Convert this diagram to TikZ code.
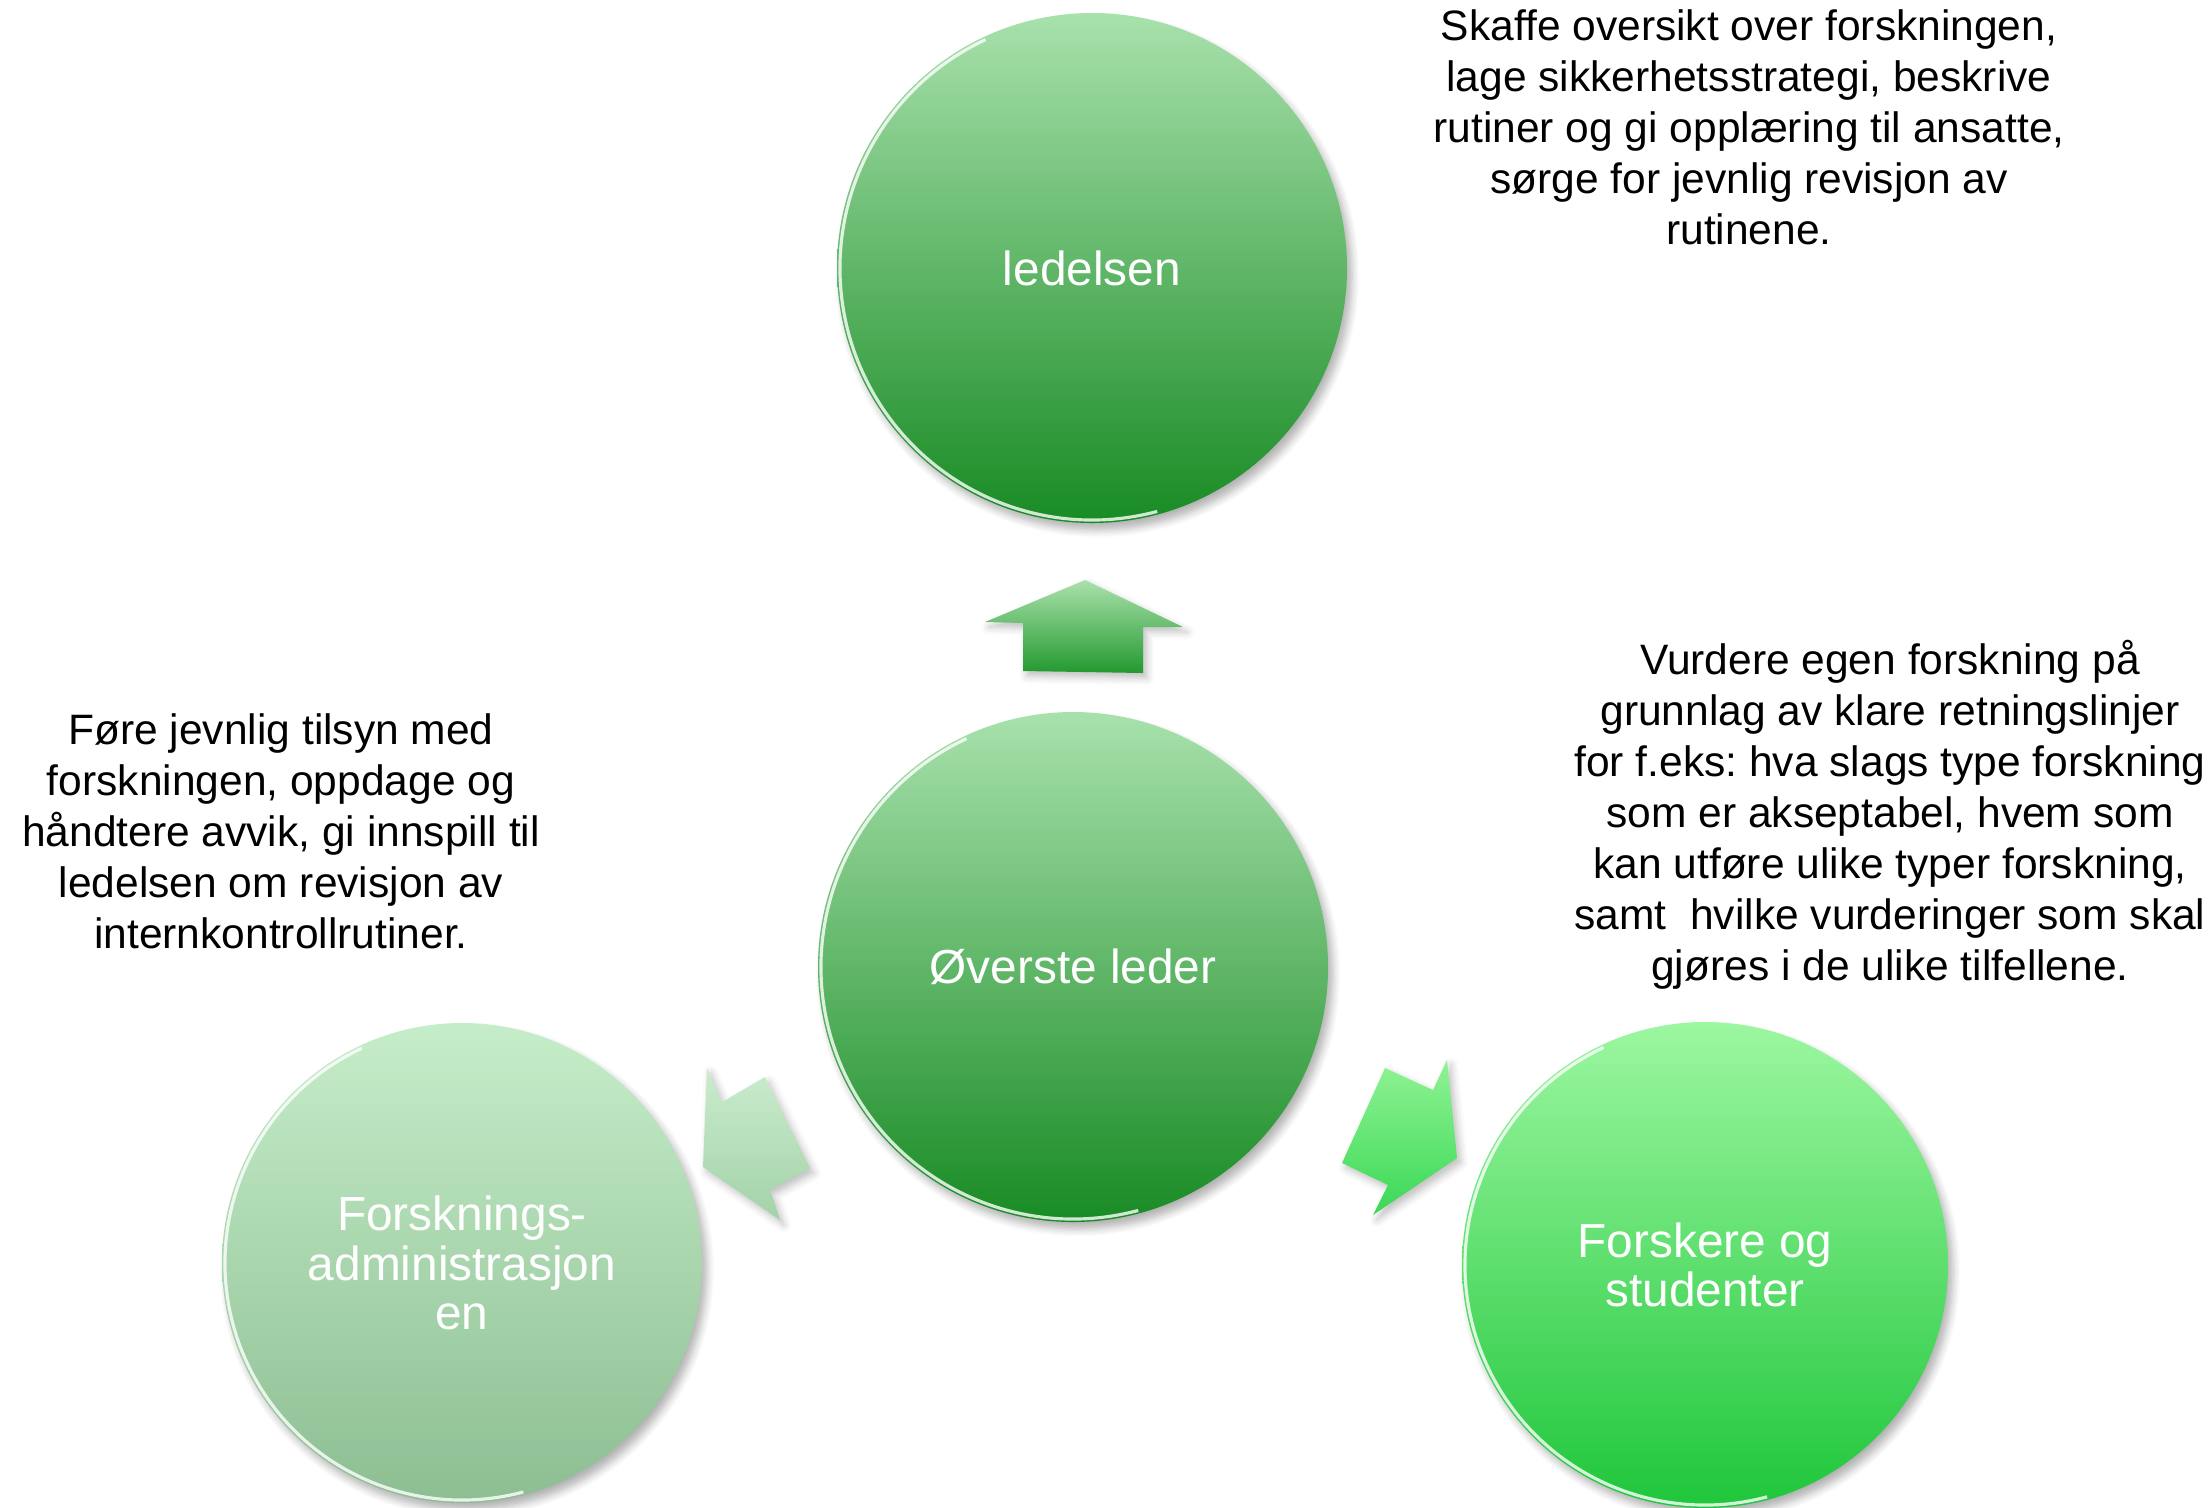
\documentclass[tikz,border=0pt]{standalone}
\usepackage{fontspec}
\setmainfont{Liberation Sans}
\usetikzlibrary{shadows.blur}
\definecolor{ledelseTopp}{RGB}{168, 225, 172}
\definecolor{ledelseBunn}{RGB}{24, 139, 36}
\definecolor{adminTopp}{RGB}{197, 237, 201}
\definecolor{adminBunn}{RGB}{141, 190, 146}
\definecolor{forskerTopp}{RGB}{156, 247, 160}
\definecolor{forskerBunn}{RGB}{31, 198, 59}
\definecolor{pilOppTopp}{RGB}{170, 225, 172}
\definecolor{pilOppBunn}{RGB}{35, 153, 47}
\definecolor{pilVTopp}{RGB}{202, 236, 205}
\definecolor{pilVBunn}{RGB}{163, 210, 168}
\definecolor{pilHTopp}{RGB}{144, 243, 148}
\definecolor{pilHBunn}{RGB}{58, 216, 86}
\tikzset{
  sirkel/.style = {circle, inner sep = 0pt, outer sep = 0pt, align = center, text = white,
    font = \fontsize{13.6}{14}\selectfont,
    blur shadow = {shadow xshift = 0.5mm, shadow yshift = -0.7mm, shadow blur steps = 6, shadow opacity = 30}},
  blokkpil/.style = {blur shadow = {shadow xshift = 0.4mm, shadow yshift = -0.5mm, shadow blur steps = 4, shadow opacity = 25}},
  rim/.style = {white, line width = 0.9pt, opacity = 0.8},
  tekst/.style = {align = center, font = \fontsize{12.1}{14.5}\selectfont}
}
\frenchspacing

\begin{document}
\begin{tikzpicture}[x = 0.1mm, y = -0.1mm]
\useasboundingbox (0,0) rectangle (2212,1507);
% sirkler
\node[sirkel, minimum size = 51mm, top color = ledelseTopp, bottom color = ledelseBunn] (ledelse) at (1092,268) {ledelsen};
\node[sirkel, minimum size = 51mm, top color = ledelseTopp, bottom color = ledelseBunn] (leder) at (1073,967) {Øverste leder};
\node[sirkel, minimum size = 48mm, top color = adminTopp, bottom color = adminBunn] (admin) at (462,1263) {Forsknings-\\administrasjon\\en};
\node[sirkel, minimum size = 48.6mm, top color = forskerTopp, bottom color = forskerBunn] (forskere) at (1705,1265) {Forskere og\\studenter};
\draw[rim] (ledelse.center) ++(115:25.2mm) arc[start angle = 115, end angle = 285, radius = 25.2mm];
\draw[rim] (leder.center) ++(115:25.2mm) arc[start angle = 115, end angle = 285, radius = 25.2mm];
\draw[rim] (admin.center) ++(115:23.7mm) arc[start angle = 115, end angle = 285, radius = 23.7mm];
\draw[rim] (forskere.center) ++(115:24mm) arc[start angle = 115, end angle = 285, radius = 24mm];
% piler
\path[blokkpil, top color = pilOppTopp, bottom color = pilOppBunn] (1085,580) -- (1183,627) -- (1143,627) -- (1143,673) -- (1023,671) -- (1023,623) -- (985,622) -- cycle;
\path[blokkpil, top color = pilVTopp, bottom color = pilVBunn] (703,1167) -- (707,1068) -- (722,1102) -- (765,1077) -- (810,1168) -- (770,1190) -- (780,1220) -- cycle;
\path[blokkpil, top color = pilHTopp, bottom color = pilHBunn] (1457,1158) -- (1373,1215) -- (1388,1185) -- (1342,1163) -- (1385,1068) -- (1433,1090) -- (1447,1060) -- cycle;
% tekster
\node[tekst] (ledelsetekst) at (1749,127) {Skaffe oversikt over forskningen,\\lage sikkerhetsstrategi, beskrive\\rutiner og gi opplæring til ansatte,\\sørge for jevnlig revisjon av\\rutinene.};
\node[tekst] (forskertekst) at (1890,815) {Vurdere egen forskning på\\grunnlag av klare retningslinjer\\for f.eks: hva slags type forskning\\som er akseptabel, hvem som\\kan utføre ulike typer forskning,\\samt\ \ hvilke vurderinger som skal\\gjøres i de ulike tilfellene.};
\node[tekst] (admintekst) at (281,831) {Føre jevnlig tilsyn med\\forskningen, oppdage og\\håndtere avvik, gi innspill til\\ledelsen om revisjon av\\internkontrollrutiner.};
\end{tikzpicture}
\end{document}
